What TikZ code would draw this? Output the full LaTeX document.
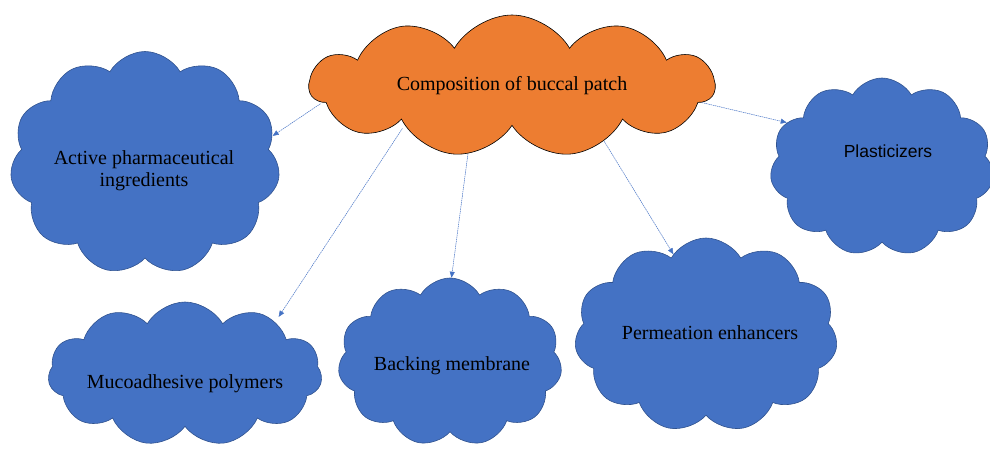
\documentclass[tikz,border=0pt]{standalone}
\usepackage{fontspec}
\setmainfont{Liberation Serif}
\newfontfamily\arialfont{Liberation Sans}
\usetikzlibrary{shapes.symbols,arrows.meta}
\definecolor{patchorange}{RGB}{237,125,49}
\definecolor{partblue}{RGB}{68,114,196}
\definecolor{partedge}{RGB}{47,82,143}

\begin{document}
\begin{tikzpicture}[x=1pt,y=-1pt]
\tikzstyle{every node}+=[inner sep=0pt]
\tikzstyle{puff}=[cloud, cloud puffs=11, cloud puff arc=120, cloud ignores aspect, draw=partedge, fill=partblue, line width=0.6pt]
\tikzstyle{lbl}=[anchor=base, font=\fontsize{20}{22}\selectfont, align=center]
\tikzstyle{link}=[draw=partblue, line width=0.5pt, dash pattern=on 1.5pt off 0.7pt, -{Triangle[length=6pt,width=5pt]}]
\useasboundingbox (0,0) rectangle (990,452);
\clip (0,0) rectangle (990,452);
\node [puff, fill=patchorange, draw=black, minimum width=405, minimum height=142] (cbp) at (512,86) {};
\node [puff, minimum width=270, minimum height=223] (api) at (145,163) {};
\node [puff, minimum width=274, minimum height=144] (mpol) at (185,374) {};
\node [puff, minimum width=224, minimum height=168] (bmem) at (450,362) {};
\node [puff, minimum width=263, minimum height=194] (penh) at (706,335) {};
\node [puff, minimum width=224, minimum height=178] (plas) at (882,167) {};
\draw [link, shorten <=2pt] (cbp.185) -- (api.12);
\draw [link, shorten <=4pt, shorten >=6pt] (cbp.200) -- (mpol.30);
\draw [link] (cbp.237) -- (bmem.89);
\draw [link] (cbp.329) -- (penh.112);
\draw [link] (cbp.355) -- (plas.155);
\node [lbl] (cbptxt) at (512,90) {Composition of buccal patch};
\node [lbl] (apitxt) at (144,186) {Active pharmaceutical\\ingredients};
\node [lbl] (mpoltxt) at (185,388) {Mucoadhesive polymers};
\node [lbl] (bmemtxt) at (452,370) {Backing membrane};
\node [lbl] (penhtxt) at (710,339) {Permeation enhancers};
\node [lbl, font=\arialfont\fontsize{17.5}{20}\selectfont] (plastxt) at (888,157) {Plasticizers};
\end{tikzpicture}
\end{document}
